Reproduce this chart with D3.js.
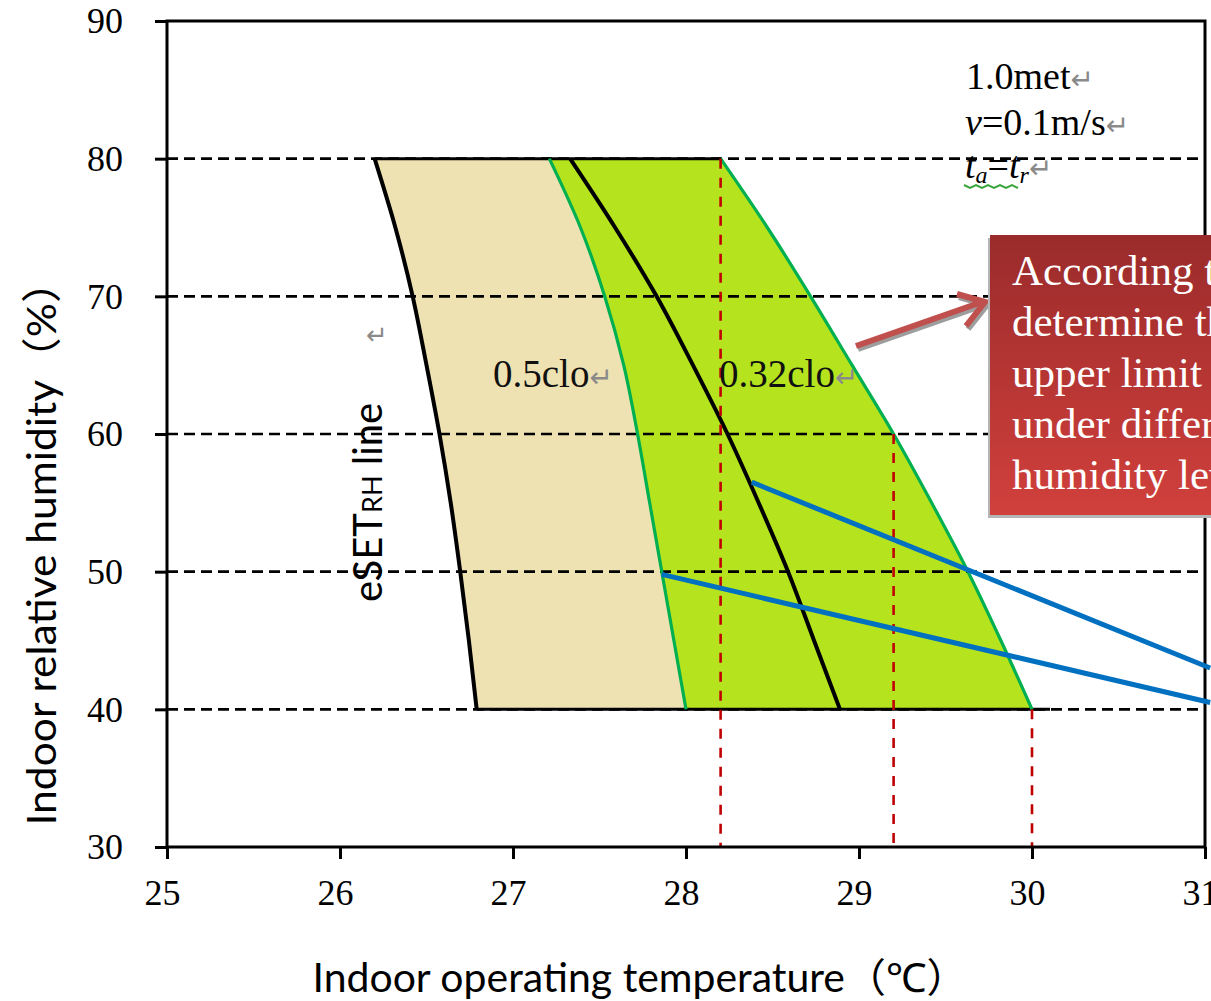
<!DOCTYPE html>
<html>
<head>
<meta charset="utf-8">
<script src="https://cdn.jsdelivr.net/npm/d3@7"></script>
<style>
  html, body { margin: 0; padding: 0; background: #fff; }
  svg { display: block; }
</style>
</head>
<body>
<svg id="chart" width="1211" height="1001"></svg>
<script>
// ---- data ----
const tempTicks = [25, 26, 27, 28, 29, 30, 31];
const rhTicks = [30, 40, 50, 60, 70, 80, 90];
const gridRH = [40, 50, 60, 70, 80];

// relative humidity levels at which the comfort boundaries are sampled
const rhLevels = [80, 75, 70, 65, 60, 55, 50, 45, 40];
// eSET_RH line (left black curve)
const esetLeft = [26.20, 26.32, 26.42, 26.50, 26.575, 26.64, 26.695, 26.745, 26.79];
// 0.5 clo upper boundary (left green curve)
const clo05Edge = [27.21, 27.39, 27.53, 27.64, 27.72, 27.79, 27.86, 27.93, 28.00];
// eSET line for 0.32 clo (middle black curve)
const esetMid = [27.33, 27.59, 27.83, 28.04, 28.24, 28.42, 28.59, 28.74, 28.89];
// 0.32 clo upper boundary (right green curve)
const clo032Edge = [28.20, 28.47, 28.72, 28.96, 29.20, 29.42, 29.63, 29.82, 30.00];

// upper temperature limits read at 80 %, 60 % and 40 % RH
const limitTemps = [28.2, 29.2, 30.0];
const limitRH = [80, 60, 40];

// leader lines [temperature, RH] start -> end
const leaderStart = [[28.38, 56.5], [27.86, 49.8]];
const leaderEnd = [[31.03, 43.0], [31.03, 40.5]];

// ---- scales ----
const svg = d3.select('#chart');
const x = d3.scaleLinear().domain([25, 31]).range([167, 1205]);
const y = d3.scaleLinear().domain([30, 90]).range([847, 21]);

const serif = '"Liberation Serif", "Times New Roman", serif';
const sans = 'Lato, "Noto Sans", "Noto Sans CJK SC", sans-serif';

const rows = rhLevels.map((rh, i) => ({
  rh, a: esetLeft[i], b: clo05Edge[i], c: esetMid[i], d: clo032Edge[i]
}));

// ---- filled comfort zones ----
const band = (k0, k1) => d3.area()
  .y(d => y(d.rh)).x0(d => x(d[k0])).x1(d => x(d[k1]))
  .curve(d3.curveMonotoneY);

svg.append('path').datum(rows).attr('d', band('a', 'b')).attr('fill', '#efe2b2');
svg.append('path').datum(rows).attr('d', band('b', 'd')).attr('fill', '#b5e41f');

// ---- dashed horizontal grid ----
svg.append('g').selectAll('line').data(gridRH).join('line')
  .attr('x1', x(25)).attr('x2', x(31))
  .attr('y1', d => y(d)).attr('y2', d => y(d))
  .attr('stroke', '#000').attr('stroke-width', 2.6)
  .attr('stroke-dasharray', '11,6');

// solid top / bottom edges of the zones
svg.append('line')
  .attr('x1', x(esetLeft[0])).attr('x2', x(clo032Edge[0]))
  .attr('y1', y(rhLevels[0])).attr('y2', y(rhLevels[0]))
  .attr('stroke', '#000').attr('stroke-width', 3);
const last = rhLevels.length - 1;
svg.append('line')
  .attr('x1', x(esetLeft[last])).attr('x2', x(clo032Edge[last]) + 18)
  .attr('y1', y(rhLevels[last])).attr('y2', y(rhLevels[last]))
  .attr('stroke', '#000').attr('stroke-width', 3);

// ---- boundary curves ----
const line = k => d3.line().y(d => y(d.rh)).x(d => x(d[k])).curve(d3.curveMonotoneY);
svg.append('path').datum(rows).attr('d', line('b')).attr('fill', 'none')
  .attr('stroke', '#00b050').attr('stroke-width', 3.2);
svg.append('path').datum(rows).attr('d', line('d')).attr('fill', 'none')
  .attr('stroke', '#00b050').attr('stroke-width', 3.2);
svg.append('path').datum(rows).attr('d', line('a')).attr('fill', 'none')
  .attr('stroke', '#000').attr('stroke-width', 4);
svg.append('path').datum(rows).attr('d', line('c')).attr('fill', 'none')
  .attr('stroke', '#000').attr('stroke-width', 4);

// ---- red dashed drop lines to the temperature axis ----
svg.append('g').selectAll('line').data(limitTemps).join('line')
  .attr('x1', d => x(d)).attr('x2', d => x(d))
  .attr('y1', (d, i) => y(limitRH[i])).attr('y2', y(30))
  .attr('stroke', '#c00000').attr('stroke-width', 2.6)
  .attr('stroke-dasharray', '10,9');

// ---- axes ----
const gx = svg.append('g').attr('transform', `translate(0,${y(30)})`)
  .call(d3.axisBottom(x).tickValues(tempTicks).tickSize(12).tickFormat(d3.format('d')));
gx.select('.domain').remove();
gx.selectAll('.tick line').attr('stroke', '#000').attr('stroke-width', 3);
gx.selectAll('.tick text').attr('y', 58).attr('dy', 0).attr('x', -5)
  .attr('font-family', serif).attr('font-size', 36).attr('fill', '#000');

const gy = svg.append('g').attr('transform', `translate(${x(25)},0)`)
  .call(d3.axisLeft(y).tickValues(rhTicks).tickSize(12).tickFormat(d3.format('d')));
gy.select('.domain').remove();
gy.selectAll('.tick line').attr('stroke', '#000').attr('stroke-width', 3);
gy.selectAll('.tick text').attr('x', -44).attr('dy', '0.33em')
  .attr('font-family', serif).attr('font-size', 36).attr('fill', '#000');

// plot frame
svg.append('rect')
  .attr('x', x(25)).attr('y', y(90))
  .attr('width', x(31) - x(25)).attr('height', y(30) - y(90))
  .attr('fill', 'none').attr('stroke', '#000').attr('stroke-width', 3);

// ---- blue leader lines ----
svg.append('g').selectAll('line').data(leaderStart).join('line')
  .attr('x1', d => x(d[0])).attr('y1', d => y(d[1]))
  .attr('x2', (d, i) => x(leaderEnd[i][0])).attr('y2', (d, i) => y(leaderEnd[i][1]))
  .attr('stroke', '#0070c0').attr('stroke-width', 5);

// ---- curve labels ----
const mark = (sel) => sel.append('tspan')
  .attr('font-family', '"DejaVu Sans", sans-serif').attr('font-size', 28)
  .attr('fill', '#8a8a8a').text('↵');

const l1 = svg.append('text').attr('x', 493).attr('y', 387)
  .attr('font-family', serif).attr('font-size', 39).attr('fill', '#111');
l1.append('tspan').text('0.5clo');
mark(l1);
const l2 = svg.append('text').attr('x', 719).attr('y', 387)
  .attr('font-family', serif).attr('font-size', 39).attr('fill', '#111');
l2.append('tspan').text('0.32clo');
mark(l2);

// stray paragraph mark beside the eSET line
svg.append('text').attr('x', 366).attr('y', 344)
  .attr('font-family', '"DejaVu Sans", sans-serif').attr('font-size', 26)
  .attr('fill', '#8a8a8a').text('↵');

// eSET_RH label (vertical)
const es = svg.append('text')
  .attr('transform', 'translate(382,602) rotate(-90)')
  .attr('font-family', sans).attr('font-size', 40).attr('fill', '#000');
es.append('tspan').text('eSET');
es.append('tspan').attr('font-size', 27).text('RH');
es.append('tspan').text(' line');

// ---- conditions block ----
const c1 = svg.append('text').attr('x', 966).attr('y', 89)
  .attr('font-family', serif).attr('font-size', 38).attr('fill', '#000');
c1.append('tspan').text('1.0met');
mark(c1);
const c2 = svg.append('text').attr('x', 965).attr('y', 135)
  .attr('font-family', serif).attr('font-size', 38).attr('fill', '#000');
c2.append('tspan').attr('font-style', 'italic').text('v');
c2.append('tspan').text('=0.1m/s');
mark(c2);
const c3 = svg.append('text').attr('x', 965).attr('y', 178)
  .attr('font-family', serif).attr('font-size', 38).attr('fill', '#000');
c3.append('tspan').attr('font-style', 'italic').text('t');
c3.append('tspan').attr('font-style', 'italic').attr('font-size', 24).attr('dy', 5).text('a');
c3.append('tspan').attr('dy', -5).text('=');
c3.append('tspan').attr('font-style', 'italic').text('t');
c3.append('tspan').attr('font-style', 'italic').attr('font-size', 24).attr('dy', 5).text('r');
mark(c3.append('tspan').attr('dy', -5));

// spell-check squiggle under the subscript expression
const squig = d3.range(0, 10).map(i => [964 + i * 6, 185 + (i % 2 ? 3 : 0)]);
svg.append('path').attr('d', d3.line()(squig)).attr('fill', 'none')
  .attr('stroke', '#3aa53a').attr('stroke-width', 2);

// ---- callout arrow ----
const arrowShaft = [[856, 346], [982, 302]];
const arrowHead = [[957, 294], [985, 302], [966, 326]];
const drawArrow = (dx, dy, color) => {
  const g = svg.append('g').attr('transform', `translate(${dx},${dy})`);
  g.append('path').attr('d', d3.line()(arrowShaft)).attr('stroke', color)
    .attr('stroke-width', 6).attr('fill', 'none');
  g.append('path').attr('d', d3.line()(arrowHead)).attr('stroke', color)
    .attr('stroke-width', 6).attr('fill', 'none').attr('stroke-linejoin', 'miter');
};
drawArrow(2, 3, '#9d9d9d');
drawArrow(0, 0, '#c0504d');

// ---- callout box ----
const defs = svg.append('defs');
const grad = defs.append('linearGradient').attr('id', 'boxFill')
  .attr('x1', 0).attr('y1', 0).attr('x2', 0).attr('y2', 1);
grad.append('stop').attr('offset', '0%').attr('stop-color', '#9a2b2b');
grad.append('stop').attr('offset', '100%').attr('stop-color', '#d1403c');

svg.append('rect').attr('x', 988).attr('y', 238).attr('width', 260).attr('height', 280)
  .attr('fill', '#b5b5b5');
svg.append('rect').attr('x', 990).attr('y', 235).attr('width', 260).attr('height', 280)
  .attr('fill', 'url(#boxFill)');

const calloutLines = ['According to the', 'determine the', 'upper limit of',
  'under different', 'humidity levels'];
svg.append('g').selectAll('text').data(calloutLines).join('text')
  .attr('x', 1012).attr('y', (d, i) => 285 + i * 51)
  .attr('font-family', serif).attr('font-size', 43).attr('fill', '#fff')
  .text(d => d);

// ---- axis titles ----
svg.append('text')
  .attr('transform', 'translate(56,543) rotate(-90)')
  .attr('text-anchor', 'middle')
  .attr('font-family', sans).attr('font-size', 40).attr('fill', '#000')
  .attr('textLength', 565).attr('lengthAdjust', 'spacingAndGlyphs')
  .text('Indoor relative humidity（%）');

svg.append('text')
  .attr('x', 640).attr('y', 992).attr('text-anchor', 'middle')
  .attr('font-family', sans).attr('font-size', 40).attr('fill', '#000')
  .attr('textLength', 655).attr('lengthAdjust', 'spacingAndGlyphs')
  .text('Indoor operating temperature（℃）');
</script>
</body>
</html>
